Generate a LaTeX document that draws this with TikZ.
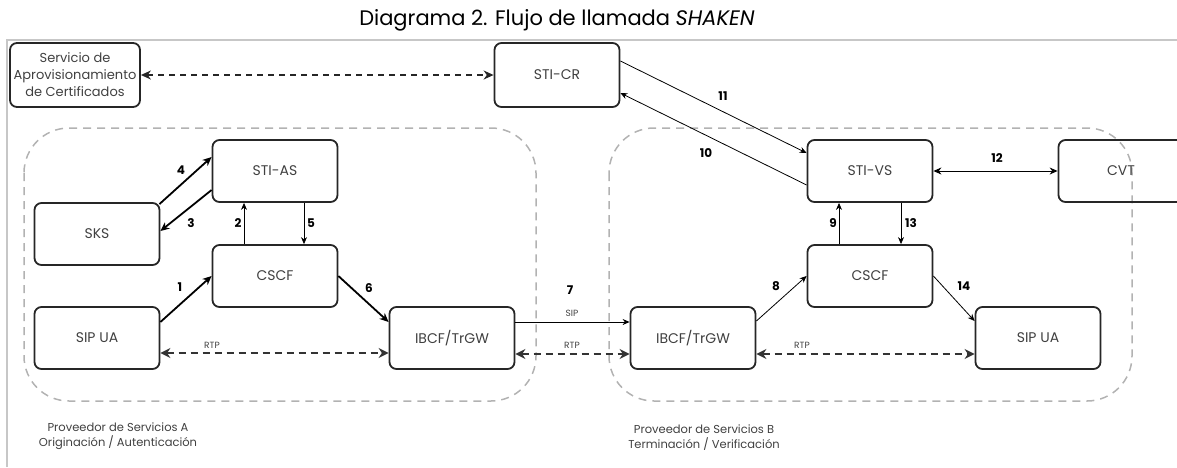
\documentclass[tikz,border=0pt]{standalone}
\usepackage{fontspec}
\setmainfont{Poppins}
\usetikzlibrary{arrows.meta}
\begin{document}
\begin{tikzpicture}[>=Stealth,x=1pt,y=-1pt,
	kasten/.style={draw=black!85,line width=1.8pt,rounded corners=7pt,minimum width=125pt,minimum height=62pt,inner sep=1pt,text=black!75,font=\fontsize{14}{17}\selectfont},
	dick/.style={line width=1.8pt,-{Stealth[length=9pt,width=8pt]}},
	duenn/.style={line width=0.8pt,-{Stealth[length=7pt,width=6pt]}},
	rtp/.style={line width=2.4pt,black!80,dash pattern=on 7pt off 5pt,{Stealth[length=10pt,width=10pt]}-{Stealth[length=10pt,width=10pt]}},
	nummer/.style={font=\bfseries\fontsize{12}{12}\selectfont},
	klein/.style={font=\fontsize{9}{10}\selectfont,text=black!75},
	gruppe/.style={draw=black!30,line width=1.5pt,dash pattern=on 8pt off 6pt,rounded corners=45pt},
	anbieter/.style={align=center,text=black!75,font=\fontsize{11.5}{15}\selectfont}]
\useasboundingbox (0,0) rectangle (1177,467);
% Rahmen und Titel
\draw[black!22,line width=2pt] (7,467) -- (7,40) -- (1177,40);
\node[font=\fontsize{21}{23}\selectfont] (titel) at (557,20) {Diagrama 2. Flujo de llamada \textit{SHAKEN}};
% Anbieter A und B
\draw[gruppe] (24,128) rectangle (536,401);
\draw[gruppe] (609,128) rectangle (1132,401);
\node[anbieter] (anbA) at (118,436) {Proveedor de Servicios A\\Originación / Autenticación};
\node[anbieter] (anbB) at (704,438) {Proveedor de Servicios B\\Terminación / Verificación};
% Knoten
\node[kasten,minimum width=130pt,minimum height=64pt,font=\fontsize{13}{17}\selectfont,align=center] (serv) at (75,75) {Servicio de\\Aprovisionamiento\\de Certificados};
\node[kasten,minimum height=64pt] (sticr) at (557,75) {STI-CR};
\node[kasten] (stias) at (275,171) {STI-AS};
\node[kasten] (sks) at (97,234) {SKS};
\node[kasten] (cscfA) at (275,276) {CSCF};
\node[kasten] (uaA) at (97,338) {SIP UA};
\node[kasten] (ibcfA) at (452,338) {IBCF/TrGW};
\node[kasten] (stivs) at (870,171) {STI-VS};
\node[kasten] (cvt) at (1121,171) {CVT};
\node[kasten] (cscfB) at (870,276) {CSCF};
\node[kasten] (ibcfB) at (693,338) {IBCF/TrGW};
\node[kasten] (uaB) at (1038,338) {SIP UA};
% Zertifikate
\draw[line width=2pt,black!85,dash pattern=on 6pt off 5pt,{Stealth[length=10pt,width=9pt]}-{Stealth[length=10pt,width=9pt]}] (serv) -- (sticr);
% Signalisierung A
\draw[dick] ([yshift=16]uaA.east) -- (cscfA.west);
\draw[duenn] ([xshift=-31]cscfA.north) -- ([xshift=-31]stias.south);
\draw[dick] ([yshift=-19]stias.west) -- ([yshift=3]sks.east);
\draw[dick] ([xshift=-1,yshift=-2]sks.north east) -- ([yshift=14]stias.west);
\draw[duenn] ([xshift=29]stias.south) -- ([xshift=29]cscfA.north);
\draw[dick] (cscfA.east) -- ([yshift=16]ibcfA.west);
% Uebergabe
\draw[duenn] ([yshift=16]ibcfA.east) -- ([yshift=16]ibcfB.west);
% Signalisierung B
\draw[duenn] ([yshift=17]ibcfB.east) -- (cscfB.west);
\draw[duenn] ([xshift=-31]cscfB.north) -- ([xshift=-31]stivs.south);
\draw[duenn] ([yshift=-14]stivs.west) -- ([yshift=-18]sticr.east);
\draw[duenn] ([yshift=14]sticr.east) -- ([yshift=18]stivs.west);
\draw[line width=1pt,{Stealth[length=8pt,width=7pt]}-{Stealth[length=8pt,width=7pt]}] (stivs.east) -- (cvt.west);
\draw[duenn] ([xshift=31]stivs.south) -- ([xshift=31]cscfB.north);
\draw[duenn] (cscfB.east) -- ([yshift=17]uaB.west);
% Medien
\draw[rtp] ([yshift=-15]uaA.east) -- ([yshift=-15]ibcfA.west);
\draw[rtp] ([yshift=-16]ibcfA.east) -- ([yshift=-16]ibcfB.west);
\draw[rtp] ([yshift=-16]ibcfB.east) -- ([yshift=-16]uaB.west);
% Nummern
\node[nummer] (n1) at (180,287) {1};
\node[nummer] (n2) at (238,223) {2};
\node[nummer] (n3) at (191,223) {3};
\node[nummer] (n4) at (181,170) {4};
\node[nummer] (n5) at (311,223) {5};
\node[nummer] (n6) at (369,288) {6};
\node[nummer] (n7) at (570,290) {7};
\node[nummer] (n8) at (776,286) {8};
\node[nummer] (n9) at (833,223) {9};
\node[nummer] (n10) at (706,153) {10};
\node[nummer] (n11) at (723,96) {11};
\node[nummer] (n12) at (997,158) {12};
\node[nummer] (n13) at (911,223) {13};
\node[nummer] (n14) at (964,286) {14};
\node[klein] (sip) at (572,313) {SIP};
\node[klein] (rtpA) at (212,345) {RTP};
\node[klein] (rtpM) at (572,345) {RTP};
\node[klein] (rtpB) at (802,345) {RTP};
\end{tikzpicture}
\end{document}
